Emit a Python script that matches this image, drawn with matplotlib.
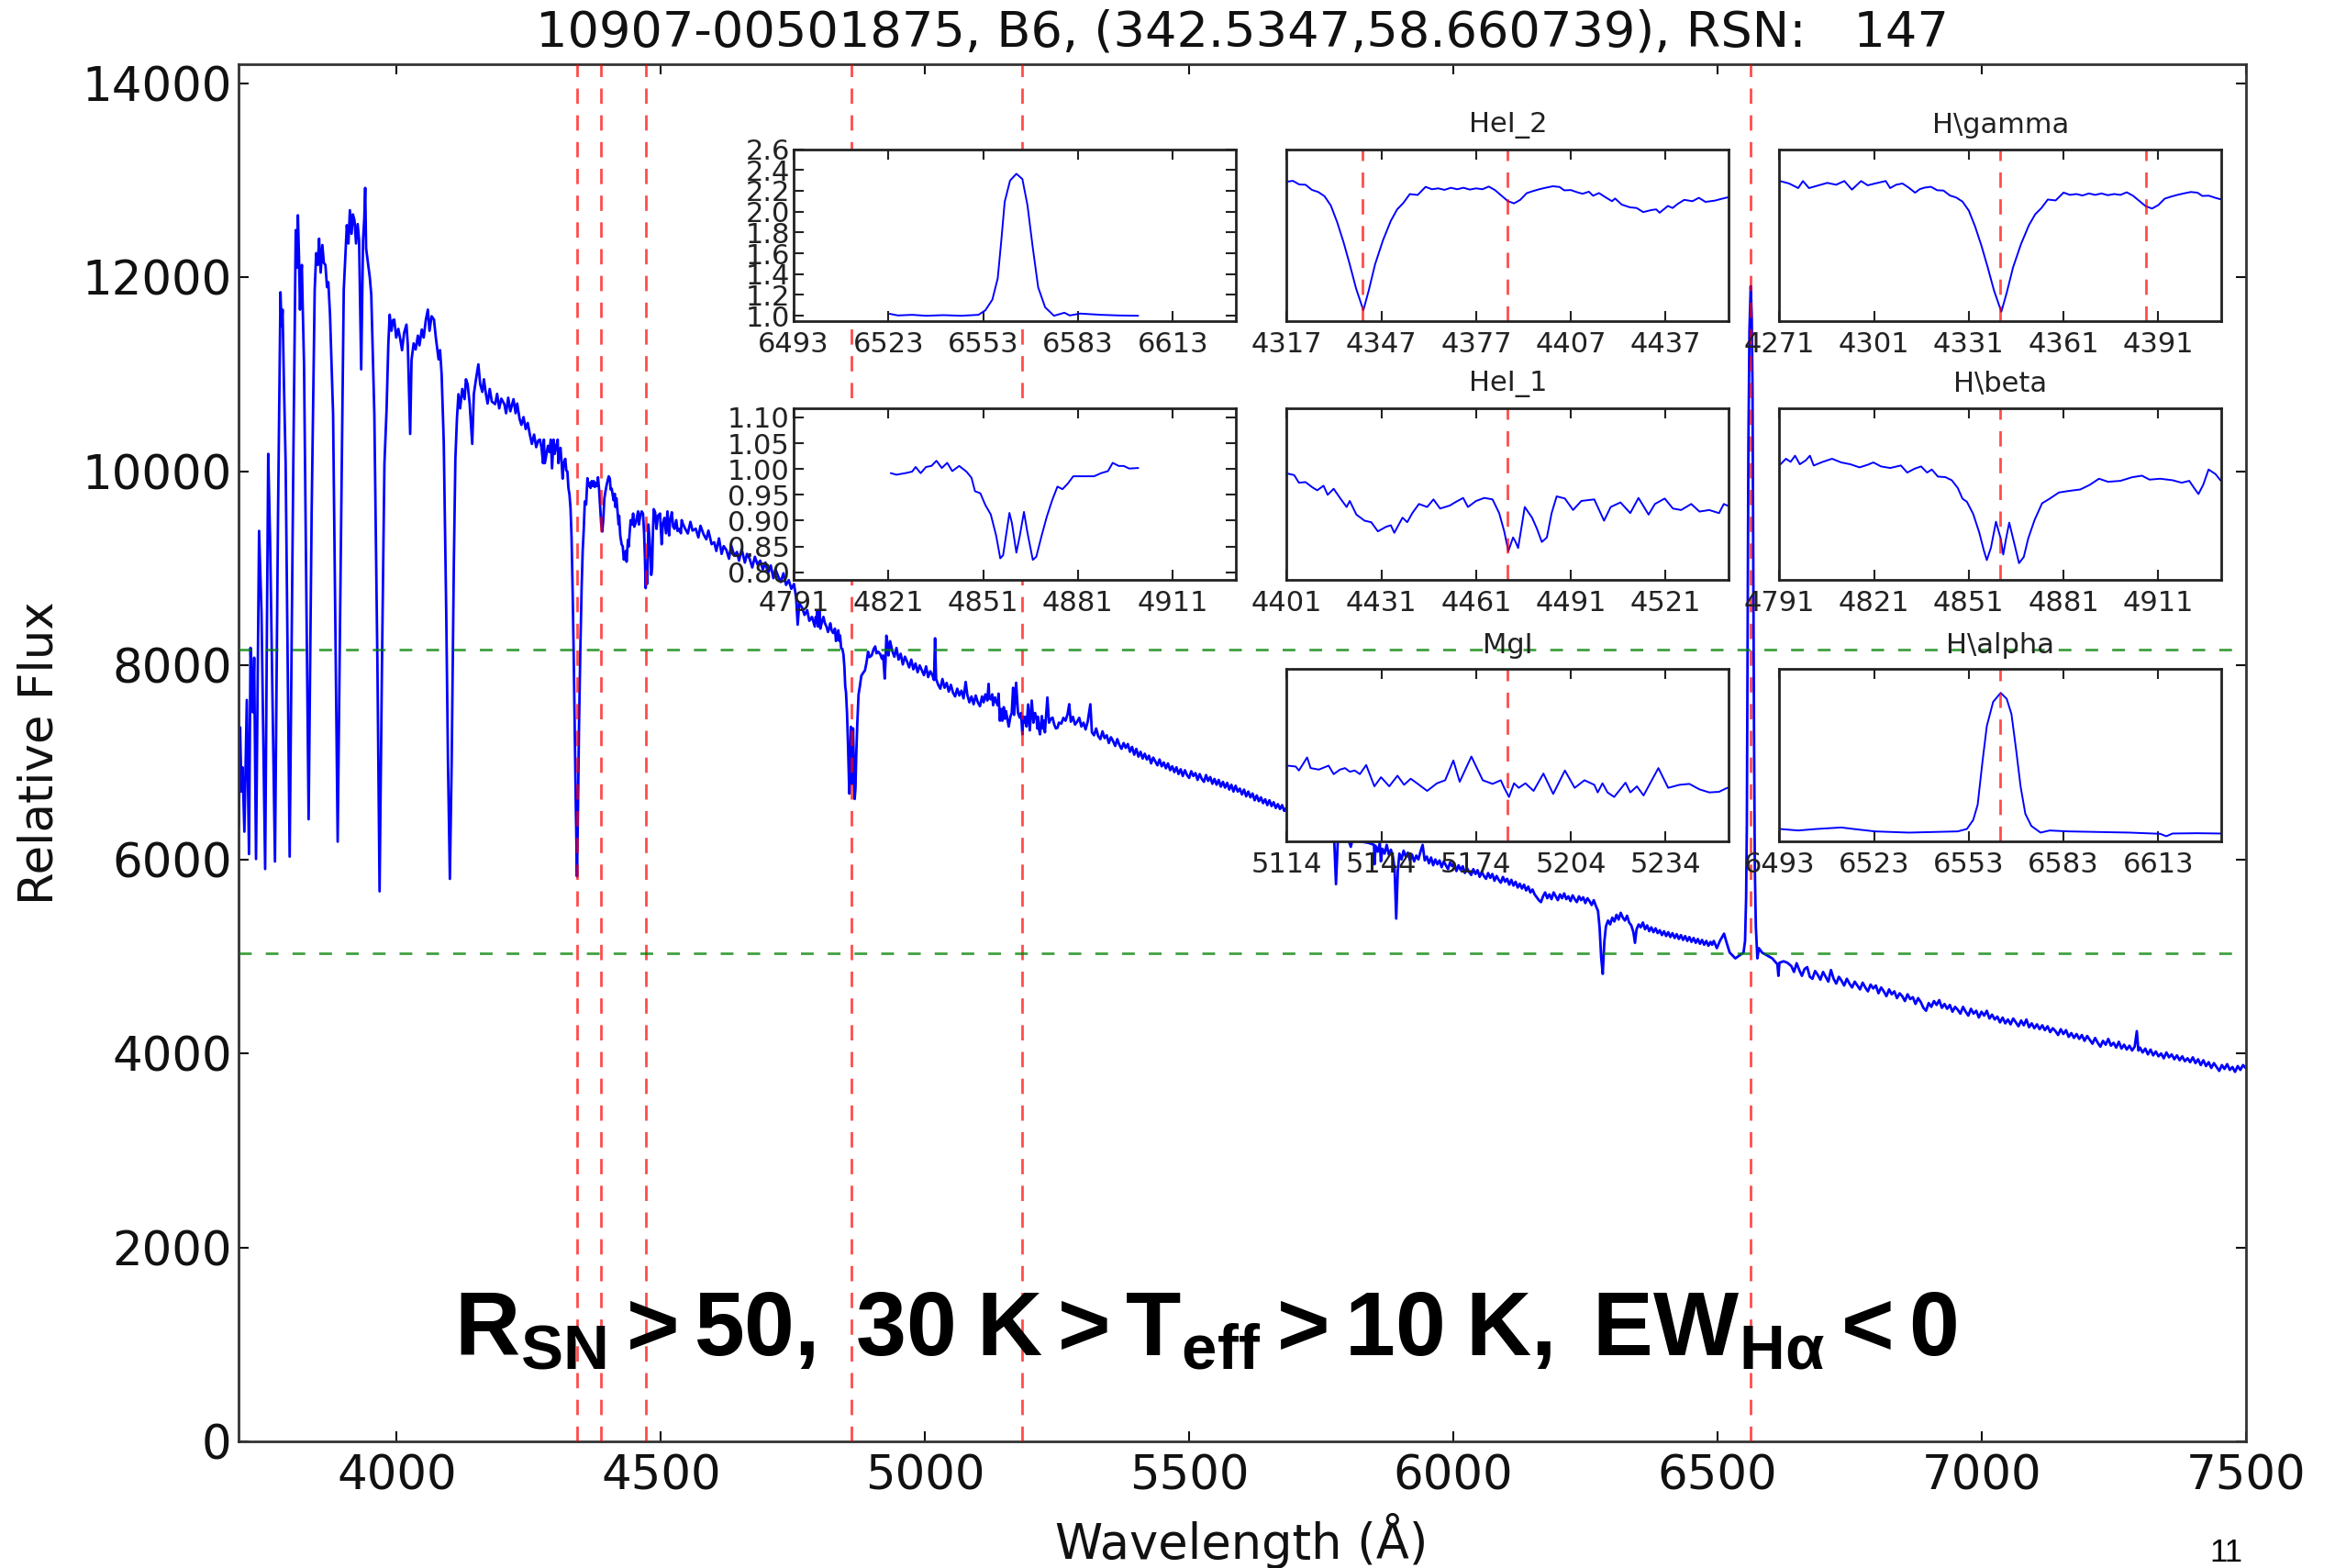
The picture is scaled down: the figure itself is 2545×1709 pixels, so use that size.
import matplotlib
matplotlib.use('Agg')
import matplotlib.pyplot as plt
import numpy as np
from matplotlib.ticker import FormatStrFormatter

plt.rcParams['font.family'] = ['DejaVu Sans']
plt.rcParams['mathtext.fontset'] = 'custom'
plt.rcParams['mathtext.rm'] = 'Liberation Sans'
plt.rcParams['mathtext.bf'] = 'Liberation Sans:bold'
plt.rcParams['mathtext.it'] = 'Liberation Sans:italic'
plt.rcParams['lines.scale_dashes'] = False

# ---------------- data ----------------
title_text = "10907-00501875, B6, (342.5347,58.660739), RSN:   147"
note_text = r"$\mathbf{R_{SN}>50,\;30\;K>T_{eff}>10\;K,\;EW_{Hα}<0}$"

line_waves = [4341, 4387, 4471, 4861, 5184, 6563]
green_levels = [8160, 5030]

x_ticks = [4000, 4500, 5000, 5500, 6000, 6500, 7000, 7500]
y_ticks = [0, 2000, 4000, 6000, 8000, 10000, 12000, 14000]

wave_balmer = [3701.0, 3703.5, 3706.0, 3708.1, 3711.6, 3716.2, 3720.3, 3723.2, 3726.0, 3727.8,
               3730.1, 3733.6, 3739.4, 3741.5, 3744.0, 3750.9, 3756.7, 3760.2, 3769.5, 3775.3,
               3779.9, 3782.0, 3783.9, 3786.5, 3789.7, 3797.3, 3804.2, 3808.8, 3811.0, 3812.9,
               3815.0, 3816.9, 3818.5, 3820.4, 3822.0, 3824.5, 3833.2, 3838.9, 3844.7, 3847.5,
               3850.5, 3853.0, 3856.0, 3859.2, 3862.0, 3865.0, 3868.0, 3870.5, 3873.7, 3879.5,
               3888.2, 3893.9, 3899.7, 3902.5, 3905.5, 3908.5, 3911.3, 3914.5, 3917.0, 3920.0,
               3923.0, 3926.0, 3928.7, 3932.7, 3936.2, 3938.5, 3940.3, 3942.0, 3946.0, 3949.0,
               3951.8, 3957.6, 3963.4, 3967.5, 3972.1, 3976.7]
flux_balmer = [6350, 7362, 6700, 6950, 6286, 7644, 6055, 8182, 7700, 7516,
               8080, 6004, 9387, 9000, 8541, 5901, 10181, 9310, 5978, 9566,
               11847, 11500, 11668, 10900, 10079, 6029, 10079, 12488, 12100, 12641,
               12200, 11668, 12000, 12129, 11700, 11104, 6414, 9566, 11873, 12250,
               12129, 12400, 12050, 12334, 12150, 12129, 11900, 11950, 11616, 10591,
               6183, 9054, 11873, 12200, 12539, 12350, 12693, 12450, 12650, 12590,
               12350, 12550, 12385, 11052, 12385, 12600, 12923, 12300, 12129, 12000,
               11821, 10591, 8029, 5671, 8029, 10079]

wave_hdelta = [3980.8, 3984, 3986.6, 3990, 3993, 3995.3, 3999, 4003, 4006.8, 4010,
               4014, 4018.4, 4021, 4025.4, 4028, 4032, 4035.8, 4040, 4043, 4047.4,
               4051, 4055, 4058.9, 4062, 4066, 4070.5, 4074, 4079.2, 4082, 4085.0,
               4089, 4093.7, 4097, 4100.6, 4104, 4108.1, 4111.0, 4114, 4116.8, 4120,
               4124, 4128.4, 4131, 4134.2, 4138, 4142.9, 4146, 4150, 4154.5, 4158,
               4162, 4165, 4168.9, 4172, 4176, 4180, 4186.3, 4190, 4194, 4198,
               4203.7, 4207, 4211, 4215, 4221.0, 4225, 4228, 4232.6, 4236, 4240,
               4244.2, 4248, 4252, 4255.8, 4260, 4264, 4268]
flux_hdelta = [10643, 11300, 11616, 11450, 11560, 11565, 11380, 11470, 11360, 11250,
               11430, 11514, 11300, 10386, 11150, 11320, 11257, 11400, 11300, 11463,
               11380, 11560, 11668, 11450, 11600, 11565, 11380, 11155, 11250, 11001,
               10300, 8541, 7000, 5799, 7000, 9054, 10130, 10550, 10796, 10650,
               10850, 10745, 10950, 10899, 10700, 10284, 10800, 10950, 11104, 10900,
               10820, 10950, 10796, 10700, 10850, 10720, 10694, 10800, 10650, 10750,
               10694, 10600, 10760, 10620, 10745, 10600, 10700, 10540, 10480, 10560,
               10437, 10500, 10380, 10284, 10380, 10250, 10320]

wave_hgamma = [4271.2, 4274.1, 4277.0, 4278.5, 4280.4, 4282.8, 4286.2, 4289.0, 4291.6, 4294.0,
               4296.9, 4299.0, 4301.3, 4304.7, 4306.1, 4308.0, 4310.0, 4312.0, 4314.0, 4315.5,
               4317, 4319, 4321, 4323, 4325, 4327, 4329, 4331, 4333, 4335,
               4337, 4339, 4341.3, 4343, 4345, 4347.5, 4350, 4352, 4354, 4356,
               4358.5, 4361, 4363, 4365, 4367, 4369, 4371, 4373, 4375, 4377,
               4379, 4381, 4383, 4385, 4387, 4389, 4391, 4393, 4395, 4397, 4399]
flux_hgamma = [10328, 10243, 10085, 10328, 10085, 10159, 10264, 10200, 10328, 10032,
               10328, 10180, 10243, 10328, 10085, 10200, 10243, 10100, 9926, 10050,
               10100, 10130, 10010, 10000, 9830, 9760, 9620, 9310, 8760, 8100,
               7350, 6550, 5825, 6480, 7350, 8150, 8800, 9180, 9400, 9690,
               9660, 9930, 9850, 9880, 9830, 9900, 9850, 9900, 9840, 9880,
               9850, 9940, 9820, 9640, 9460, 9380, 9500, 9720, 9790, 9850, 9900]

wave_hei = [4401.3, 4403.4, 4404.9, 4407.0, 4409.1, 4410.7, 4412.7, 4414.0, 4415.9, 4417.9,
            4420.0, 4421.0, 4423.1, 4425.7, 4427.8, 4429.9, 4432.5, 4434.0, 4435.1, 4437.7,
            4439.2, 4440.8, 4442.9, 4445.5, 4447.5, 4449.6, 4452.7, 4454.3, 4456.9, 4458.4,
            4461.0, 4463.6, 4466.2, 4468.3, 4469.9, 4471.2, 4472.7, 4473.5, 4474.3, 4476.4,
            4478.7, 4480.2, 4481.8, 4483.4, 4484.9, 4486.5, 4489.1, 4491.7, 4494.3, 4498.4,
            4501.5, 4503.6, 4506.7, 4509.8, 4512.4, 4515.6, 4517.6, 4520.7, 4523.3, 4525.9,
            4529.1, 4531.7, 4534.8, 4537.9, 4539.4, 4540.5]
flux_hei = [9950, 9927, 9814, 9823, 9747, 9701, 9769, 9634, 9724, 9588,
            9453, 9543, 9340, 9249, 9227, 9091, 9159, 9182, 9069, 9295,
            9227, 9362, 9498, 9453, 9566, 9430, 9475, 9521, 9588, 9453,
            9543, 9588, 9566, 9362, 9091, 8797, 9001, 8933, 8843, 9453,
            9295, 9136, 8933, 9001, 9362, 9611, 9579, 9408, 9543, 9566,
            9249, 9453, 9521, 9362, 9588, 9340, 9498, 9579, 9430, 9408,
            9498, 9385, 9408, 9362, 9498, 9475]

wave_cont1 = [4545, 4551, 4556, 4560, 4566, 4571, 4575, 4581, 4586, 4590,
              4596, 4601, 4605, 4610, 4615, 4619, 4624, 4629, 4633, 4639,
              4644, 4648, 4653, 4659, 4663, 4668, 4673, 4678, 4683, 4688,
              4693, 4698, 4703, 4708, 4713, 4717, 4722, 4727, 4732, 4737,
              4742, 4747, 4752, 4756, 4759, 4762, 4767, 4772, 4777, 4781, 4786]
flux_cont1 = [9420, 9360, 9480, 9390, 9410, 9320, 9440, 9350, 9300, 9390,
              9250, 9270, 9180, 9310, 9150, 9230, 9190, 9100, 9240, 9130,
              9170, 9080, 9200, 9060, 9150, 9100, 9010, 9120, 9040, 9080,
              8990, 9060, 8950, 9030, 8900, 8990, 8920, 8860, 8950, 8830,
              8880, 8790, 8840, 8700, 8420, 8640, 8600, 8520, 8570, 8460, 8500]

wave_hbeta = [4791.4, 4793.1, 4794.6, 4796.0, 4797.5, 4799.4, 4800.7, 4801.9, 4804.8, 4807.7,
              4810.6, 4813.5, 4816.4, 4818.9, 4820.8, 4823.2, 4826.1, 4829.5, 4831.5, 4833.9,
              4835.9, 4837.8, 4839.3, 4841.2, 4843.6, 4845.6, 4847.5, 4849.0, 4850.4, 4852.4,
              4854.3, 4855.8, 4856.7, 4858.0, 4859.6, 4861.1, 4861.9, 4862.8, 4863.8, 4865.5,
              4866.9, 4868.4, 4869.8, 4871.8, 4874.2, 4876.6, 4879.5, 4882.5, 4886.3, 4889.3,
              4892.2, 4895.1, 4899.0, 4902.8, 4905.8, 4908.2, 4911.6, 4915.5, 4918.4, 4920.8,
              4922.3, 4923.7, 4925.2, 4926.9, 4929.1, 4930.8]
flux_hbeta = [8401, 8500, 8445, 8555, 8401, 8472, 8555, 8379, 8445, 8500,
              8434, 8401, 8345, 8390, 8434, 8362, 8334, 8379, 8252, 8323,
              8362, 8252, 8307, 8180, 8169, 8114, 7976, 7782, 7727, 7506,
              7175, 6844, 6678, 6899, 7368, 7065, 6778, 7065, 7352, 6954,
              6623, 6734, 7065, 7396, 7700, 7782, 7893, 7920, 7948, 8031,
              8141, 8086, 8103, 8169, 8196, 8125, 8141, 8114, 8069, 8103,
              7976, 7865, 8031, 8307, 8224, 8103]

wave_cont2 = [4934, 4938, 4942, 4946, 4950, 4954, 4958, 4962, 4966, 4970,
              4974, 4978, 4982, 4986, 4990, 4994, 4998, 5002, 5006, 5010,
              5014, 5017, 5019, 5021, 5025, 5029, 5033, 5037, 5041, 5045,
              5049, 5053, 5057, 5061, 5065, 5069, 5073, 5077, 5080, 5084,
              5088, 5092, 5096, 5100, 5104, 5108, 5111]
flux_cont2 = [8250, 8150, 8090, 8180, 8060, 8120, 8010, 8090, 8040, 7980,
              8060, 7960, 8020, 7930, 8000, 7950, 7900, 7990, 7880, 7940,
              7900, 7850, 8280, 7860, 7800, 7760, 7860, 7770, 7820, 7730,
              7800, 7720, 7680, 7760, 7690, 7740, 7660, 7830, 7700, 7620,
              7680, 7600, 7690, 7620, 7580, 7680, 7620]

wave_mgi = [5114.3, 5116.9, 5117.9, 5119.0, 5120.5, 5121.6, 5124.2, 5127.3, 5128.9, 5130.9,
            5132.5, 5134.0, 5135.6, 5137.2, 5139.2, 5141.8, 5143.9, 5146.5, 5149.1, 5151.2,
            5153.3, 5155.3, 5158.5, 5161.6, 5164.2, 5166.8, 5168.8, 5172.5, 5176.1, 5179.2,
            5181.8, 5182.9, 5184.4, 5186.0, 5187.5, 5189.6, 5192.2, 5195.3, 5198.4, 5202.1,
            5205.2, 5208.3, 5211.4, 5212.5, 5214.0, 5215.6, 5217.7, 5221.3, 5222.8, 5224.9,
            5227.0, 5231.7, 5234.8, 5238.4, 5241.5, 5244.7, 5247.8, 5250.9, 5253.5]
flux_mgi = [7702, 7690, 7638, 7710, 7810, 7670, 7650, 7702, 7590, 7650,
            7670, 7622, 7638, 7590, 7710, 7430, 7550, 7430, 7570, 7450,
            7530, 7470, 7370, 7470, 7510, 7770, 7490, 7822, 7510, 7462,
            7510, 7410, 7290, 7470, 7410, 7470, 7370, 7598, 7330, 7638,
            7410, 7510, 7450, 7350, 7470, 7350, 7290, 7478, 7350, 7430,
            7310, 7670, 7410, 7450, 7462, 7390, 7350, 7358, 7410]

wave_cont3 = [5258, 5262, 5266, 5270, 5273, 5276, 5280, 5284, 5288, 5292,
              5296, 5300, 5304, 5308, 5313, 5316, 5320, 5324, 5328, 5332,
              5336, 5340, 5344, 5348, 5352, 5356, 5360, 5364, 5368, 5372,
              5376, 5380, 5384, 5388, 5392, 5396, 5400, 5404, 5408, 5412,
              5416, 5420, 5424, 5428, 5432, 5436, 5440, 5444, 5448, 5452,
              5456, 5460, 5464, 5468, 5472, 5476, 5480, 5484, 5488, 5492,
              5496, 5500, 5504, 5508, 5512, 5516, 5520, 5524, 5528, 5532,
              5536, 5540, 5544, 5548, 5552, 5556, 5560, 5564, 5568, 5572,
              5576, 5580, 5584, 5588, 5592, 5596, 5600, 5604, 5608, 5612,
              5616, 5620, 5624, 5628, 5632, 5636, 5640, 5644, 5648, 5652,
              5656, 5660, 5664, 5668, 5672, 5676, 5680, 5685, 5695, 5705,
              5715, 5725, 5735, 5745, 5755, 5765, 5774, 5778, 5782, 5790,
              5800, 5806, 5810, 5820, 5830, 5840, 5845, 5850, 5851, 5853,
              5857, 5861, 5863, 5866, 5870, 5874, 5878, 5882, 5886, 5889,
              5892, 5895, 5898, 5902, 5906, 5910, 5914, 5918, 5922, 5926,
              5930, 5934, 5938, 5942, 5946, 5950, 5954, 5958, 5962, 5966,
              5970, 5974, 5978, 5982, 5986, 5990, 5994, 5998, 6002, 6006,
              6010, 6014, 6018, 6022, 6026, 6030, 6034, 6038, 6042, 6046,
              6050, 6054, 6058, 6062, 6066, 6070, 6074, 6078, 6082, 6086,
              6090, 6094, 6098, 6102, 6106, 6110, 6114, 6118, 6122, 6126,
              6130, 6134, 6138, 6142, 6146, 6150, 6154, 6158, 6162, 6166,
              6170, 6174, 6178, 6182, 6186, 6190, 6194, 6198, 6202, 6206,
              6210, 6214, 6218, 6222, 6226, 6230, 6234, 6238, 6242, 6246,
              6250, 6254, 6258, 6262, 6266, 6270, 6274, 6277, 6280, 6283,
              6286, 6289, 6293, 6297, 6301, 6305, 6309, 6313, 6317, 6321,
              6325, 6329, 6333, 6337, 6341, 6344, 6347, 6351, 6355, 6359,
              6363, 6367, 6371, 6375, 6379, 6383, 6387, 6391, 6395, 6399,
              6403, 6407, 6411, 6415, 6419, 6423, 6427, 6431, 6435, 6439,
              6443, 6447, 6451, 6455, 6459, 6463, 6467, 6471, 6475, 6479,
              6483, 6487, 6490]
flux_cont3 = [7400, 7460, 7430, 7500, 7600, 7420, 7470, 7390, 7420, 7460,
              7370, 7410, 7340, 7420, 7600, 7310, 7280, 7350, 7270, 7240,
              7320, 7250, 7280, 7200, 7260, 7220, 7170, 7240, 7180, 7140,
              7200, 7150, 7190, 7110, 7160, 7080, 7140, 7060, 7110, 7040,
              7090, 7030, 7070, 6990, 7050, 7010, 6970, 7030, 6960, 7000,
              6940, 6990, 6920, 6960, 6900, 6950, 6880, 6930, 6860, 6920,
              6870, 6840, 6910, 6860, 6890, 6820, 6880, 6830, 6800, 6870,
              6810, 6850, 6780, 6830, 6770, 6820, 6750, 6800, 6740, 6790,
              6720, 6770, 6700, 6760, 6700, 6730, 6670, 6720, 6650, 6700,
              6640, 6680, 6610, 6660, 6600, 6640, 6580, 6620, 6560, 6610,
              6550, 6590, 6530, 6570, 6520, 6560, 6500, 6540, 6480, 6450,
              6420, 6400, 6380, 6350, 6330, 6310, 6290, 5745, 6270, 6250,
              6230, 6130, 6220, 6200, 6180, 6170, 6160, 6150, 5950, 6140,
              6080, 6170, 5980, 6110, 6060, 6150, 6050, 6100, 6020, 5900,
              5390, 5880, 6060, 6000, 6090, 6030, 6070, 5990, 6050, 5980,
              6040, 6000, 6080, 6150, 5990, 6030, 5960, 6020, 5940, 6000,
              5950, 5990, 5920, 5980, 5940, 5900, 5970, 5930, 5960, 5880,
              5940, 5890, 5930, 5860, 5910, 5870, 5840, 5900, 5850, 5890,
              5820, 5870, 5830, 5800, 5860, 5810, 5850, 5780, 5830, 5790,
              5760, 5820, 5770, 5800, 5740, 5790, 5730, 5770, 5710, 5750,
              5700, 5740, 5680, 5720, 5660, 5690, 5640, 5610, 5580, 5560,
              5620, 5660, 5600, 5640, 5590, 5660, 5620, 5580, 5640, 5600,
              5650, 5590, 5620, 5570, 5630, 5590, 5560, 5620, 5580, 5610,
              5550, 5600, 5570, 5530, 5580, 5520, 5470, 5300, 4990, 4820,
              5150, 5310, 5370, 5330, 5400, 5360, 5430, 5380, 5450, 5400,
              5370, 5420, 5350, 5320, 5250, 5140, 5280, 5330, 5300, 5350,
              5280, 5320, 5260, 5300, 5250, 5290, 5240, 5270, 5220, 5260,
              5210, 5250, 5200, 5240, 5190, 5230, 5180, 5220, 5170, 5210,
              5160, 5200, 5150, 5190, 5140, 5180, 5130, 5170, 5120, 5160,
              5110, 5150, 5120]

wave_halpha = [6493.2, 6499, 6504.8, 6512.6, 6516.5, 6523.3, 6534, 6541.7, 6549.5, 6552.4,
               6554.4, 6555.8, 6557.3, 6558.7, 6560.7, 6563.1, 6565, 6566.5, 6568, 6569.4,
               6570.9, 6572.8, 6575.7, 6578.6, 6584.5, 6594.2, 6603.9, 6613.6, 6615.5, 6617.5,
               6625.2, 6632.5]
flux_halpha = [5160, 5085, 5160, 5235, 5160, 5040, 4980, 5010, 5040, 5160,
               5610, 6360, 8460, 10260, 11460, 11910, 11610, 10860, 9060, 7260,
               5910, 5310, 4980, 5085, 5040, 5010, 4980, 4920, 4800, 4935,
               4950, 4935]

wave_red = [6640, 6645, 6650, 6655, 6660, 6665, 6670, 6675, 6680, 6685,
            6690, 6695, 6700, 6705, 6710, 6715, 6720, 6725, 6730, 6735,
            6740, 6745, 6750, 6755, 6760, 6765, 6770, 6775, 6780, 6785,
            6790, 6795, 6800, 6805, 6810, 6815, 6820, 6825, 6830, 6835,
            6840, 6845, 6850, 6855, 6860, 6865, 6870, 6875, 6880, 6885,
            6890, 6895, 6900, 6905, 6910, 6915, 6920, 6925, 6930, 6935,
            6940, 6945, 6950, 6955, 6960, 6965, 6970, 6975, 6980, 6985,
            6990, 6995, 7000, 7005, 7010, 7015, 7020, 7025, 7030, 7035,
            7040, 7045, 7050, 7055, 7060, 7065, 7070, 7075, 7080, 7085,
            7090, 7095, 7100, 7105, 7110, 7115, 7120, 7125, 7130, 7135,
            7140, 7145, 7150, 7155, 7160, 7165, 7170, 7175, 7180, 7185,
            7190, 7195, 7200, 7205, 7210, 7215, 7220, 7225, 7230, 7235,
            7240, 7245, 7250, 7255, 7260, 7265, 7270, 7275, 7280, 7285,
            7290, 7294, 7297, 7300, 7305, 7310, 7315, 7320, 7325, 7330,
            7335, 7340, 7345, 7350, 7355, 7360, 7365, 7370, 7375, 7380,
            7385, 7390, 7395, 7400, 7405, 7410, 7415, 7420, 7425, 7430,
            7435, 7440, 7445, 7450, 7455, 7460, 7465, 7470, 7475, 7480,
            7485, 7490, 7495, 7500]
flux_red = [4900, 4840, 4930, 4860, 4800, 4870, 4890, 4790, 4770, 4850,
            4810, 4760, 4840, 4790, 4740, 4860, 4770, 4720, 4790, 4750,
            4700, 4770, 4720, 4680, 4740, 4700, 4660, 4730, 4680, 4640,
            4710, 4670, 4700, 4620, 4680, 4640, 4590, 4660, 4610, 4640,
            4570, 4620, 4590, 4540, 4610, 4560, 4580, 4510, 4570, 4530,
            4470, 4440, 4520, 4480, 4540, 4500, 4550, 4470, 4510, 4460,
            4500, 4430, 4480, 4450, 4410, 4480, 4430, 4390, 4460, 4410,
            4440, 4370, 4430, 4390, 4440, 4360, 4400, 4350, 4380, 4320,
            4370, 4310, 4350, 4300, 4360, 4320, 4280, 4340, 4290, 4350,
            4270, 4310, 4260, 4300, 4250, 4290, 4240, 4280, 4220, 4260,
            4230, 4190, 4250, 4200, 4240, 4170, 4210, 4160, 4200, 4150,
            4190, 4130, 4180, 4140, 4100, 4160, 4110, 4070, 4130, 4090,
            4150, 4080, 4110, 4060, 4120, 4050, 4090, 4040, 4080, 4030,
            4070, 4230, 4030, 4060, 4010, 4050, 3990, 4040, 3980, 4020,
            3970, 4000, 3950, 4010, 3960, 3990, 3940, 3980, 3930, 3970,
            3920, 3950, 3910, 3960, 3900, 3940, 3880, 3930, 3870, 3910,
            3850, 3900, 3860, 3820, 3880, 3840, 3890, 3830, 3860, 3810,
            3870, 3830, 3880, 3850]

# normalised profiles shown in the left-hand insets
norm_ha_wave = [6523.5, 6526, 6530.5, 6534.9, 6540.4, 6546, 6551.5, 6553.7, 6555.9, 6557.6,
                6558.7, 6559.8, 6561.5, 6563.5, 6565.4, 6567.0, 6568.7, 6570.4, 6572.6, 6575.4,
                6578.7, 6580.4, 6583.7, 6590.3, 6595.9, 6602.0]
norm_ha_flux = [1.018, 1.003, 1.009, 1.0, 1.006, 1.0, 1.009, 1.053, 1.155, 1.36,
                1.712, 2.093, 2.298, 2.363, 2.313, 2.064, 1.653, 1.273, 1.082, 1.0,
                1.029, 1.003, 1.021, 1.009, 1.003, 1.0]

norm_hb_wave = [4821.8, 4823.5, 4826.3, 4828.5, 4829.6, 4831.2, 4832.9, 4834.6, 4836.2, 4837.9,
                4839.6, 4841.2, 4843.4, 4845.7, 4847.3, 4848.4, 4850.1, 4851.7, 4853.4, 4855.1,
                4856.4, 4857.3, 4859.3, 4860.1, 4861.5, 4862.6, 4863.9, 4865.0, 4866.7, 4867.8,
                4869.5, 4871.1, 4872.8, 4874.5, 4876.1, 4877.8, 4879.5, 4882.8, 4886.1, 4888.3,
                4890.5, 4892.0, 4893.9, 4895.5, 4897.2, 4900.0]
norm_hb_flux = [0.992, 0.989, 0.992, 0.995, 1.004, 0.992, 1.004, 1.006, 1.016, 1.002,
                1.012, 0.996, 1.006, 0.995, 0.983, 0.957, 0.953, 0.930, 0.912, 0.871,
                0.827, 0.833, 0.915, 0.895, 0.838, 0.871, 0.917, 0.877, 0.824, 0.830,
                0.871, 0.907, 0.939, 0.966, 0.961, 0.972, 0.986, 0.986, 0.986, 0.992,
                0.996, 1.012, 1.006, 1.006, 1.001, 1.002]

inset_titles = ["", "HeI_2", "H\\gamma", "", "HeI_1", "H\\beta", "MgI", "H\\alpha"]
inset_centers = [6563, 4387, 4341, 4861, 4471, 4861, 5184, 6563]
inset_ylims = [(0.95, 2.6), (5470, 11185), (5508, 11427), (0.785, 1.118),
               (8368, 10922), (6320, 9410), (6710, 8970), (4560, 13080)]

# ---------------- assemble main spectrum ----------------
wave = np.concatenate([wave_balmer, wave_hdelta, wave_hgamma, wave_hei, wave_cont1,
                       wave_hbeta, wave_cont2, wave_mgi, wave_cont3, wave_halpha, wave_red])
flux = np.concatenate([flux_balmer, flux_hdelta, flux_hgamma, flux_hei, flux_cont1,
                       flux_hbeta, flux_cont2, flux_mgi, flux_cont3, flux_halpha, flux_red])

# ---------------- figure ----------------
fig = plt.figure(figsize=(25.45, 17.09), dpi=100)
ax = fig.add_axes([0.10204, 0.08072, 0.85969, 0.87844])
ax.plot(wave, flux, color='#0000ff', lw=2.0, zorder=2)
for lwv in line_waves:
    ax.axvline(lwv, color='r', ls=(0, (12, 9)), lw=2.0, alpha=0.7, zorder=3)
for g in green_levels:
    ax.axhline(g, color='g', ls=(0, (10, 11)), lw=2.0, alpha=0.75, zorder=3)
ax.set_xlim(3700, 7500)
ax.set_ylim(0, 14200)
ax.set_xticks(x_ticks)
ax.set_yticks(y_ticks)
ax.tick_params(direction='in', top=True, right=True, length=8, width=1.5,
               labelsize=37, colors='#111111')
ax.tick_params(axis='x', pad=10)
ax.tick_params(axis='y', pad=5)
for s in ax.spines.values():
    s.set_linewidth(2.0)
    s.set_color('#333333')
ax.text(0.5, -0.0724, "Wavelength (Å)", transform=ax.transAxes, ha='center',
        va='center', fontsize=38, color='#111111')
ax.text(-0.0987, 0.5, "Relative Flux", transform=ax.transAxes, ha='center',
        va='center', rotation=90, fontsize=37, color='#111111')
ax.text(0.5, 1.0227, title_text, transform=ax.transAxes, ha='center', va='center',
        fontsize=39, color='#111111')

col_left = [0.3399, 0.5510, 0.7620]
row_bottom = [0.7953, 0.6301, 0.4636]
inset_w, inset_h = 0.1894, 0.1096
inset_pos = [(0, 0), (1, 0), (2, 0), (0, 1), (1, 1), (2, 1), (1, 2), (2, 2)]

for i, (c, r) in enumerate(inset_pos):
    iax = fig.add_axes([col_left[c], row_bottom[r], inset_w, inset_h])
    iax.set_facecolor('white')
    lo = inset_centers[i] - 70
    if i == 0:
        iax.plot(norm_ha_wave, norm_ha_flux, color='#0000ff', lw=1.4)
    elif i == 3:
        iax.plot(norm_hb_wave, norm_hb_flux, color='#0000ff', lw=1.4)
    else:
        iax.plot(wave, flux, color='#0000ff', lw=1.4)
        for lwv in line_waves:
            if lo < lwv < lo + 140:
                iax.axvline(lwv, color='r', ls=(0, (12, 9)), lw=2.0, alpha=0.7)
    iax.set_xlim(lo, lo + 140)
    iax.set_ylim(*inset_ylims[i])
    ticks = [lo + 30 * k for k in range(5)]
    iax.set_xticks(ticks)
    iax.set_xticklabels([str(t) for t in ticks])
    iax.tick_params(direction='in', top=True, right=True, length=8, width=1.5,
                    labelsize=22, colors='#222222', pad=8)
    if i == 0:
        iax.set_yticks([1.0, 1.2, 1.4, 1.6, 1.8, 2.0, 2.2, 2.4, 2.6])
        iax.yaxis.set_major_formatter(FormatStrFormatter('%.1f'))
        iax.tick_params(axis='y', pad=3)
    elif i == 3:
        iax.set_yticks([0.80, 0.85, 0.90, 0.95, 1.00, 1.05, 1.10])
        iax.yaxis.set_major_formatter(FormatStrFormatter('%.2f'))
        iax.tick_params(axis='y', pad=3)
    else:
        iax.set_yticks([])
    for s in iax.spines.values():
        s.set_linewidth(2.0)
        s.set_color('#222222')
    if inset_titles[i]:
        iax.text(0.5, 1.14, inset_titles[i], transform=iax.transAxes, ha='center',
                 va='center', fontsize=22, color='#222222')

fig.text(0.5166, 0.1358, note_text, ha='center', va='baseline', fontsize=71, color='black')
fig.text(0.9534, 0.0095, "11", ha='center', va='center', fontsize=25,
         family='Liberation Sans', color='black')

fig.savefig('out.png', dpi=100)
